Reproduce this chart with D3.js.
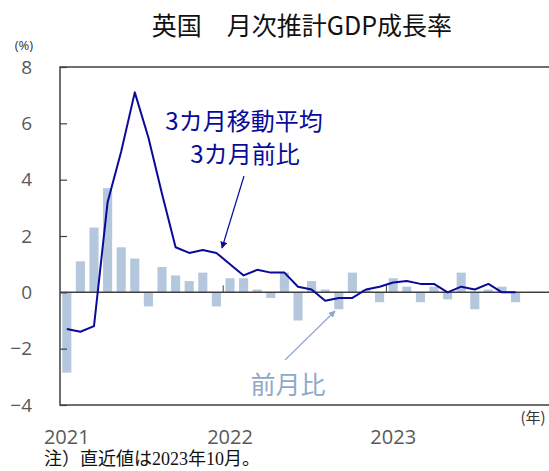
<html>
<head>
<meta charset="utf-8">
<script src="https://cdn.jsdelivr.net/npm/d3@7"></script>
<style>
  body { margin: 0; background: #fff; }
  text { font-family: "Open Sans", "Noto Sans CJK JP", sans-serif; }
  .jp { font-family: "Noto Sans CJK JP", sans-serif; }
</style>
</head>
<body>
<svg id="chart" width="549" height="471"></svg>
<script>
// months Jan 2021 .. Oct 2023
let months = []
for (let yr = 2021; yr <= 2023; yr++) {
    for (let m = 1; m <= 12; m++) {
        if (yr == 2023 && m > 10) break
        months.push(yr + "-" + m)
    }
}

// 前月比 (bars)
let momValues = [
    -2.85, 1.1, 2.3, 3.7, 1.6, 1.2, -0.5, 0.9, 0.6, 0.4, 0.7, -0.5,
    0.5, 0.5, 0.1, -0.2, 0.7, -1.0, 0.4, 0.1, -0.6, 0.7, 0.1, -0.35,
    0.5, 0.2, -0.35, 0.2, -0.25, 0.7, -0.6, 0.1, 0.2, -0.35
]

// 3カ月移動平均 3カ月前比 (line)
let threeMonthValues = [
    -1.3, -1.4, -1.2, 3.2, 5.0, 7.1, 5.5, 3.5, 1.6, 1.4, 1.5, 1.4,
    1.0, 0.6, 0.8, 0.7, 0.7, 0.2, 0.1, -0.3, -0.2, -0.2, 0.1, 0.2,
    0.35, 0.4, 0.3, 0.3, 0.0, 0.2, 0.1, 0.3, 0.0, 0.0
]

let yTicks = [-4, -2, 0, 2, 4, 6, 8]
let yearLabels = ["2021", "2022", "2023"]

let svg = d3.select("#chart")
let plotLeft = 60, plotTop = 67, plotBottom = 405, plotRight = 549
let step = 13.6

let x = d3.scaleBand()
    .domain(months)
    .range([plotLeft, plotLeft + months.length * step])
    .paddingInner(0.33)
    .paddingOuter(0.165)

let y = d3.scaleLinear().domain([-4, 8]).range([plotBottom, plotTop])

let barColor = "#b4c7dc"
let lineColor = "#0a0a9a"
let axisColor = "#404040"

// bars
svg.append("g").selectAll("rect")
    .data(momValues)
    .enter()
    .append("rect")
    .attr("x", (d, i) => x(months[i]))
    .attr("width", x.bandwidth())
    .attr("y", d => y(Math.max(d, 0)))
    .attr("height", d => Math.abs(y(d) - y(0)))
    .attr("fill", barColor)

// zero line
svg.append("line")
    .attr("x1", plotLeft).attr("x2", plotRight)
    .attr("y1", y(0)).attr("y2", y(0))
    .attr("stroke", axisColor).attr("stroke-width", 1.5)

// year ticks on zero line
yearLabels.slice(1).forEach(yr => {
    let xx = x(yr + "-1") - x.step() * x.paddingInner() / 2
    svg.append("line")
        .attr("x1", xx).attr("x2", xx)
        .attr("y1", y(0)).attr("y2", y(0) - 7)
        .attr("stroke", axisColor).attr("stroke-width", 1)
})

// line
let line = d3.line()
    .x((d, i) => x(months[i]) + x.bandwidth() / 2)
    .y(d => y(d))
svg.append("path")
    .datum(threeMonthValues)
    .attr("d", line)
    .attr("fill", "none")
    .attr("stroke", lineColor)
    .attr("stroke-width", 2)
    .attr("stroke-linejoin", "round")

// frame
svg.append("path")
    .attr("d", `M${plotRight},${plotTop}H${plotLeft}V${plotBottom}H${plotRight}`)
    .attr("fill", "none")
    .attr("stroke", axisColor).attr("stroke-width", 1.5)

// y axis
let yAxis = d3.axisLeft(y)
    .tickValues(yTicks)
    .tickSize(-7)
    .tickPadding(28)
let yg = svg.append("g")
    .attr("transform", `translate(${plotLeft},0)`)
    .call(yAxis)
yg.select(".domain").remove()
yg.selectAll(".tick line").attr("stroke", axisColor).attr("stroke-width", 1.2)
yg.selectAll(".tick text")
    .attr("fill", "#595959")
    .style("font-size", "19px")
    .style("font-family", "'Open Sans', sans-serif")

// x axis (year labels on January)
let xAxis = d3.axisBottom(x)
    .tickValues(yearLabels.map(yr => yr + "-1"))
    .tickFormat(d => d.split("-")[0])
    .tickSize(0)
    .tickPadding(25)
let xg = svg.append("g")
    .attr("transform", `translate(0,${plotBottom})`)
    .call(xAxis)
xg.select(".domain").remove()
xg.selectAll(".tick text")
    .attr("fill", "#595959")
    .style("font-size", "20px")
    .style("font-family", "'Open Sans', sans-serif")

// title
svg.append("text")
    .attr("class", "jp")
    .attr("x", 302).attr("y", 35)
    .attr("text-anchor", "middle")
    .style("font-size", "25px")
    .attr("fill", "#111")
    .text("英国　月次推計GDP成長率")

// units
svg.append("text")
    .attr("x", 24).attr("y", 50)
    .attr("text-anchor", "middle")
    .style("font-size", "13px")
    .attr("fill", "#333")
    .text("(%)")
svg.append("text")
    .attr("class", "jp")
    .attr("x", 533).attr("y", 423)
    .attr("text-anchor", "middle")
    .style("font-size", "15px")
    .attr("fill", "#333")
    .text("(年)")

// annotations
let defs = svg.append("defs")
function marker(id, color) {
    defs.append("marker")
        .attr("id", id)
        .attr("viewBox", "0 0 10 10")
        .attr("refX", 9).attr("refY", 5)
        .attr("markerWidth", 7).attr("markerHeight", 7)
        .attr("markerUnits", "userSpaceOnUse")
        .attr("orient", "auto")
        .append("path")
        .attr("d", "M0,0L10,5L0,10z")
        .attr("fill", color)
}
marker("arrowDark", lineColor)
marker("arrowLight", "#8ea9c8")

svg.append("text").attr("class", "jp")
    .attr("x", 244).attr("y", 130)
    .attr("text-anchor", "middle")
    .style("font-size", "24px")
    .attr("fill", lineColor)
    .text("3カ月移動平均")
svg.append("text").attr("class", "jp")
    .attr("x", 245).attr("y", 163)
    .attr("text-anchor", "middle")
    .style("font-size", "24px")
    .attr("fill", lineColor)
    .text("3カ月前比")
svg.append("line")
    .attr("x1", 244).attr("y1", 176).attr("x2", 222).attr("y2", 248)
    .attr("stroke", lineColor).attr("stroke-width", 1.2)
    .attr("marker-end", "url(#arrowDark)")

svg.append("text").attr("class", "jp")
    .attr("x", 288).attr("y", 394)
    .attr("text-anchor", "middle")
    .style("font-size", "25px")
    .attr("fill", "#8ea9c8")
    .text("前月比")
svg.append("line")
    .attr("x1", 285).attr("y1", 360).attr("x2", 335).attr("y2", 311)
    .attr("stroke", "#8ea9c8").attr("stroke-width", 1.2)
    .attr("marker-end", "url(#arrowLight)")

// footnote
svg.append("text")
    .attr("x", 44).attr("y", 465)
    .style("font-size", "18px")
    .style("font-family", "'Liberation Serif', 'Noto Sans CJK JP', serif")
    .attr("fill", "#111")
    .text("注）直近値は2023年10月。")
</script>
</body>
</html>
